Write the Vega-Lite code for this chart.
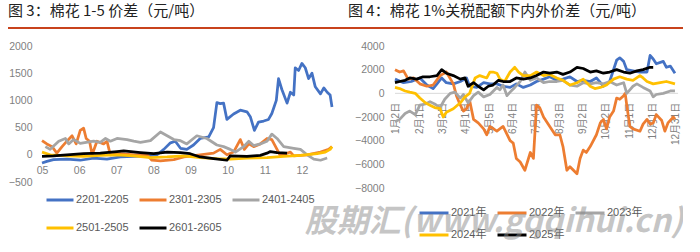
{
  "$schema": "https://vega.github.io/schema/vega-lite/v6.json",
  "padding": {"left": 8, "top": 4, "right": 0, "bottom": 0},
  "background": "white",
  "config": {"view": {"stroke": null}, "font": "Liberation Sans, Noto Sans CJK SC"},
  "datasets": {
    "p1": [
      {"s":"2201-2205","m":5.00,"v":-150},{"s":"2201-2205","m":5.13,"v":-120},{"s":"2201-2205","m":5.31,"v":-90},{"s":"2201-2205","m":5.67,"v":-80},{"s":"2201-2205","m":6.03,"v":-100},{"s":"2201-2205","m":6.39,"v":-60},{"s":"2201-2205","m":6.75,"v":-80},{"s":"2201-2205","m":7.11,"v":-40},{"s":"2201-2205","m":7.47,"v":-30},{"s":"2201-2205","m":7.83,"v":-20},{"s":"2201-2205","m":8.10,"v":0},{"s":"2201-2205","m":8.28,"v":100},{"s":"2201-2205","m":8.46,"v":220},{"s":"2201-2205","m":8.59,"v":250},{"s":"2201-2205","m":8.73,"v":120},{"s":"2201-2205","m":8.90,"v":100},{"s":"2201-2205","m":9.08,"v":180},{"s":"2201-2205","m":9.26,"v":300},{"s":"2201-2205","m":9.49,"v":330},{"s":"2201-2205","m":9.62,"v":500},{"s":"2201-2205","m":9.71,"v":960},{"s":"2201-2205","m":9.80,"v":940},{"s":"2201-2205","m":9.89,"v":950},{"s":"2201-2205","m":9.98,"v":650},{"s":"2201-2205","m":10.16,"v":750},{"s":"2201-2205","m":10.34,"v":820},{"s":"2201-2205","m":10.52,"v":790},{"s":"2201-2205","m":10.61,"v":700},{"s":"2201-2205","m":10.72,"v":450},{"s":"2201-2205","m":10.83,"v":600},{"s":"2201-2205","m":10.97,"v":620},{"s":"2201-2205","m":11.10,"v":650},{"s":"2201-2205","m":11.19,"v":760},{"s":"2201-2205","m":11.31,"v":1000},{"s":"2201-2205","m":11.37,"v":1400},{"s":"2201-2205","m":11.46,"v":1200},{"s":"2201-2205","m":11.60,"v":950},{"s":"2201-2205","m":11.69,"v":1150},{"s":"2201-2205","m":11.78,"v":1100},{"s":"2201-2205","m":11.82,"v":1600},{"s":"2201-2205","m":11.91,"v":1550},{"s":"2201-2205","m":12.00,"v":1680},{"s":"2201-2205","m":12.09,"v":1600},{"s":"2201-2205","m":12.18,"v":1400},{"s":"2201-2205","m":12.27,"v":1500},{"s":"2201-2205","m":12.36,"v":1250},{"s":"2201-2205","m":12.50,"v":1120},{"s":"2201-2205","m":12.59,"v":1230},{"s":"2201-2205","m":12.68,"v":1150},{"s":"2201-2205","m":12.76,"v":1100},{"s":"2201-2205","m":12.81,"v":880},
      {"s":"2301-2305","m":5.00,"v":260},{"s":"2301-2305","m":5.13,"v":200},{"s":"2301-2305","m":5.27,"v":150},{"s":"2301-2305","m":5.40,"v":30},{"s":"2301-2305","m":5.54,"v":150},{"s":"2301-2305","m":5.67,"v":250},{"s":"2301-2305","m":5.81,"v":350},{"s":"2301-2305","m":5.92,"v":200},{"s":"2301-2305","m":6.03,"v":450},{"s":"2301-2305","m":6.12,"v":490},{"s":"2301-2305","m":6.19,"v":300},{"s":"2301-2305","m":6.28,"v":250},{"s":"2301-2305","m":6.35,"v":0},{"s":"2301-2305","m":6.48,"v":250},{"s":"2301-2305","m":6.66,"v":200},{"s":"2301-2305","m":6.75,"v":250},{"s":"2301-2305","m":6.84,"v":0},{"s":"2301-2305","m":7.11,"v":20},{"s":"2301-2305","m":7.47,"v":0},{"s":"2301-2305","m":7.83,"v":0},{"s":"2301-2305","m":7.96,"v":-100},{"s":"2301-2305","m":8.19,"v":-110},{"s":"2301-2305","m":8.55,"v":-90},{"s":"2301-2305","m":8.82,"v":-40},{"s":"2301-2305","m":9.26,"v":0},{"s":"2301-2305","m":9.62,"v":30},{"s":"2301-2305","m":9.80,"v":100},{"s":"2301-2305","m":9.98,"v":0},{"s":"2301-2305","m":10.16,"v":50},{"s":"2301-2305","m":10.34,"v":280},{"s":"2301-2305","m":10.45,"v":100},{"s":"2301-2305","m":10.57,"v":200},{"s":"2301-2305","m":10.70,"v":150},{"s":"2301-2305","m":10.88,"v":200},{"s":"2301-2305","m":11.06,"v":300},{"s":"2301-2305","m":11.19,"v":280},{"s":"2301-2305","m":11.33,"v":100},{"s":"2301-2305","m":11.42,"v":-20},{"s":"2301-2305","m":11.69,"v":50},{"s":"2301-2305","m":11.78,"v":-20},{"s":"2301-2305","m":12.14,"v":0},{"s":"2301-2305","m":12.50,"v":50},{"s":"2301-2305","m":12.72,"v":100},{"s":"2301-2305","m":12.81,"v":150},
      {"s":"2401-2405","m":5.09,"v":150},{"s":"2401-2405","m":5.22,"v":100},{"s":"2401-2405","m":5.45,"v":250},{"s":"2401-2405","m":5.63,"v":300},{"s":"2401-2405","m":5.72,"v":200},{"s":"2401-2405","m":5.85,"v":280},{"s":"2401-2405","m":6.03,"v":210},{"s":"2401-2405","m":6.39,"v":250},{"s":"2401-2405","m":6.57,"v":230},{"s":"2401-2405","m":6.71,"v":300},{"s":"2401-2405","m":6.84,"v":250},{"s":"2401-2405","m":7.02,"v":300},{"s":"2401-2405","m":7.29,"v":280},{"s":"2401-2405","m":7.47,"v":250},{"s":"2401-2405","m":7.65,"v":230},{"s":"2401-2405","m":7.92,"v":260},{"s":"2401-2405","m":8.19,"v":420},{"s":"2401-2405","m":8.37,"v":350},{"s":"2401-2405","m":8.55,"v":280},{"s":"2401-2405","m":8.73,"v":260},{"s":"2401-2405","m":8.90,"v":200},{"s":"2401-2405","m":9.17,"v":350},{"s":"2401-2405","m":9.44,"v":300},{"s":"2401-2405","m":9.71,"v":180},{"s":"2401-2405","m":9.89,"v":150},{"s":"2401-2405","m":10.07,"v":100},{"s":"2401-2405","m":10.21,"v":50},{"s":"2401-2405","m":10.43,"v":150},{"s":"2401-2405","m":10.57,"v":250},{"s":"2401-2405","m":10.70,"v":170},{"s":"2401-2405","m":10.88,"v":200},{"s":"2401-2405","m":11.06,"v":250},{"s":"2401-2405","m":11.19,"v":380},{"s":"2401-2405","m":11.33,"v":300},{"s":"2401-2405","m":11.51,"v":150},{"s":"2401-2405","m":11.78,"v":120},{"s":"2401-2405","m":11.96,"v":100},{"s":"2401-2405","m":12.14,"v":0},{"s":"2401-2405","m":12.32,"v":-80},{"s":"2401-2405","m":12.50,"v":-100},{"s":"2401-2405","m":12.68,"v":-60},
      {"s":"2501-2505","m":5.00,"v":50},{"s":"2501-2505","m":5.22,"v":0},{"s":"2501-2505","m":5.67,"v":-20},{"s":"2501-2505","m":6.12,"v":-30},{"s":"2501-2505","m":6.57,"v":-10},{"s":"2501-2505","m":7.02,"v":0},{"s":"2501-2505","m":7.47,"v":-20},{"s":"2501-2505","m":7.92,"v":-50},{"s":"2501-2505","m":8.37,"v":-40},{"s":"2501-2505","m":8.82,"v":-20},{"s":"2501-2505","m":9.26,"v":-50},{"s":"2501-2505","m":9.71,"v":-70},{"s":"2501-2505","m":10.07,"v":-80},{"s":"2501-2505","m":10.52,"v":-60},{"s":"2501-2505","m":11.06,"v":-50},{"s":"2501-2505","m":11.51,"v":-30},{"s":"2501-2505","m":11.96,"v":-10},{"s":"2501-2505","m":12.41,"v":20},{"s":"2501-2505","m":12.63,"v":50},{"s":"2501-2505","m":12.76,"v":100},{"s":"2501-2505","m":12.81,"v":150},
      {"s":"2601-2605","m":5.00,"v":-30},{"s":"2601-2605","m":5.31,"v":-20},{"s":"2601-2605","m":5.67,"v":0},{"s":"2601-2605","m":6.12,"v":20},{"s":"2601-2605","m":6.57,"v":30},{"s":"2601-2605","m":7.02,"v":60},{"s":"2601-2605","m":7.20,"v":70},{"s":"2601-2605","m":7.65,"v":40},{"s":"2601-2605","m":8.01,"v":20},{"s":"2601-2605","m":8.37,"v":50},{"s":"2601-2605","m":8.73,"v":40},{"s":"2601-2605","m":8.99,"v":20},{"s":"2601-2605","m":9.26,"v":-40},{"s":"2601-2605","m":9.62,"v":-70},{"s":"2601-2605","m":9.98,"v":-100},{"s":"2601-2605","m":10.07,"v":-20},{"s":"2601-2605","m":10.52,"v":-30},{"s":"2601-2605","m":10.88,"v":-10},{"s":"2601-2605","m":11.06,"v":30},{"s":"2601-2605","m":11.15,"v":60},{"s":"2601-2605","m":11.33,"v":40},{"s":"2601-2605","m":11.60,"v":30}
    ],
    "p2": [
      {"s":"2021年","d":0,"v":1200},{"s":"2021年","d":11,"v":900},{"s":"2021年","d":21,"v":1000},{"s":"2021年","d":32,"v":1300},{"s":"2021年","d":41,"v":700},{"s":"2021年","d":49,"v":400},{"s":"2021年","d":54,"v":800},{"s":"2021年","d":60,"v":1300},{"s":"2021年","d":66,"v":900},{"s":"2021年","d":75,"v":800},{"s":"2021年","d":84,"v":1000},{"s":"2021年","d":92,"v":1300},{"s":"2021年","d":96,"v":600},{"s":"2021年","d":105,"v":500},{"s":"2021年","d":114,"v":900},{"s":"2021年","d":122,"v":800},{"s":"2021年","d":131,"v":800},{"s":"2021年","d":139,"v":600},{"s":"2021年","d":148,"v":500},{"s":"2021年","d":156,"v":800},{"s":"2021年","d":165,"v":500},{"s":"2021年","d":174,"v":700},{"s":"2021年","d":182,"v":1000},{"s":"2021年","d":191,"v":1200},{"s":"2021年","d":199,"v":1400},{"s":"2021年","d":208,"v":1100},{"s":"2021年","d":216,"v":1200},{"s":"2021年","d":225,"v":1400},{"s":"2021年","d":234,"v":1000},{"s":"2021年","d":242,"v":1100},{"s":"2021年","d":251,"v":1000},{"s":"2021年","d":259,"v":1300},{"s":"2021年","d":268,"v":600},{"s":"2021年","d":276,"v":1000},{"s":"2021年","d":285,"v":2800},{"s":"2021年","d":289,"v":3000},{"s":"2021年","d":294,"v":2700},{"s":"2021年","d":298,"v":2000},{"s":"2021年","d":306,"v":1900},{"s":"2021年","d":315,"v":1800},{"s":"2021年","d":324,"v":1800},{"s":"2021年","d":328,"v":3200},{"s":"2021年","d":332,"v":2900},{"s":"2021年","d":336,"v":2500},{"s":"2021年","d":345,"v":2700},{"s":"2021年","d":349,"v":2200},{"s":"2021年","d":354,"v":2300},{"s":"2021年","d":360,"v":1700},
      {"s":"2022年","d":0,"v":2000},{"s":"2022年","d":6,"v":1800},{"s":"2022年","d":11,"v":1900},{"s":"2022年","d":17,"v":1200},{"s":"2022年","d":24,"v":1300},{"s":"2022年","d":32,"v":800},{"s":"2022年","d":41,"v":600},{"s":"2022年","d":49,"v":700},{"s":"2022年","d":58,"v":1500},{"s":"2022年","d":66,"v":1800},{"s":"2022年","d":75,"v":800},{"s":"2022年","d":79,"v":-200},{"s":"2022年","d":84,"v":-1000},{"s":"2022年","d":88,"v":-1500},{"s":"2022年","d":92,"v":-1300},{"s":"2022年","d":96,"v":-600},{"s":"2022年","d":101,"v":-2200},{"s":"2022年","d":107,"v":-2500},{"s":"2022年","d":114,"v":-3000},{"s":"2022年","d":118,"v":-3500},{"s":"2022年","d":122,"v":-2800},{"s":"2022年","d":131,"v":-3200},{"s":"2022年","d":139,"v":-2800},{"s":"2022年","d":148,"v":-4000},{"s":"2022年","d":152,"v":-4200},{"s":"2022年","d":156,"v":-5500},{"s":"2022年","d":161,"v":-5800},{"s":"2022年","d":167,"v":-6500},{"s":"2022年","d":174,"v":-5000},{"s":"2022年","d":178,"v":-5500},{"s":"2022年","d":182,"v":-1000},{"s":"2022年","d":186,"v":-1200},{"s":"2022年","d":191,"v":-2000},{"s":"2022年","d":199,"v":-2800},{"s":"2022年","d":206,"v":-3500},{"s":"2022年","d":212,"v":-3500},{"s":"2022年","d":216,"v":-4500},{"s":"2022年","d":221,"v":-6500},{"s":"2022年","d":225,"v":-6200},{"s":"2022年","d":234,"v":-6800},{"s":"2022年","d":238,"v":-5500},{"s":"2022年","d":242,"v":-4800},{"s":"2022年","d":246,"v":-5000},{"s":"2022年","d":251,"v":-4500},{"s":"2022年","d":259,"v":-3500},{"s":"2022年","d":264,"v":-2500},{"s":"2022年","d":268,"v":-2200},{"s":"2022年","d":272,"v":-3000},{"s":"2022年","d":276,"v":-2000},{"s":"2022年","d":281,"v":-1500},{"s":"2022年","d":285,"v":-400},{"s":"2022年","d":289,"v":-500},{"s":"2022年","d":294,"v":-200},{"s":"2022年","d":296,"v":0},{"s":"2022年","d":298,"v":-1000},{"s":"2022年","d":302,"v":-2800},{"s":"2022年","d":306,"v":-3000},{"s":"2022年","d":315,"v":-3200},{"s":"2022年","d":319,"v":-2600},{"s":"2022年","d":324,"v":-2200},{"s":"2022年","d":328,"v":-2600},{"s":"2022年","d":332,"v":-2500},{"s":"2022年","d":336,"v":-1800},{"s":"2022年","d":343,"v":-2300},{"s":"2022年","d":347,"v":-3200},{"s":"2022年","d":351,"v":-2500},{"s":"2022年","d":358,"v":-2000},{"s":"2022年","d":360,"v":-2200},
      {"s":"2023年","d":0,"v":-2400},{"s":"2023年","d":6,"v":-2200},{"s":"2023年","d":13,"v":-1700},{"s":"2023年","d":19,"v":-1500},{"s":"2023年","d":26,"v":-1800},{"s":"2023年","d":32,"v":-1000},{"s":"2023年","d":39,"v":-900},{"s":"2023年","d":45,"v":-700},{"s":"2023年","d":51,"v":-900},{"s":"2023年","d":58,"v":-1200},{"s":"2023年","d":64,"v":-500},{"s":"2023年","d":71,"v":0},{"s":"2023年","d":77,"v":100},{"s":"2023年","d":84,"v":-400},{"s":"2023年","d":88,"v":-100},{"s":"2023年","d":94,"v":-800},{"s":"2023年","d":101,"v":-200},{"s":"2023年","d":107,"v":100},{"s":"2023年","d":114,"v":-300},{"s":"2023年","d":122,"v":-100},{"s":"2023年","d":131,"v":500},{"s":"2023年","d":135,"v":300},{"s":"2023年","d":139,"v":700},{"s":"2023年","d":144,"v":-200},{"s":"2023年","d":148,"v":100},{"s":"2023年","d":154,"v":500},{"s":"2023年","d":161,"v":1000},{"s":"2023年","d":167,"v":1800},{"s":"2023年","d":174,"v":1100},{"s":"2023年","d":182,"v":1300},{"s":"2023年","d":191,"v":900},{"s":"2023年","d":199,"v":1000},{"s":"2023年","d":208,"v":1000},{"s":"2023年","d":216,"v":1100},{"s":"2023年","d":225,"v":700},{"s":"2023年","d":234,"v":600},{"s":"2023年","d":242,"v":900},{"s":"2023年","d":251,"v":800},{"s":"2023年","d":259,"v":900},{"s":"2023年","d":268,"v":800},{"s":"2023年","d":276,"v":1000},{"s":"2023年","d":285,"v":700},{"s":"2023年","d":294,"v":900},{"s":"2023年","d":298,"v":0},{"s":"2023年","d":302,"v":300},{"s":"2023年","d":306,"v":600},{"s":"2023年","d":311,"v":800},{"s":"2023年","d":319,"v":500},{"s":"2023年","d":328,"v":200},{"s":"2023年","d":332,"v":-300},{"s":"2023年","d":336,"v":-100},{"s":"2023年","d":345,"v":0},{"s":"2023年","d":354,"v":200},{"s":"2023年","d":360,"v":200},
      {"s":"2024年","d":0,"v":500},{"s":"2024年","d":6,"v":400},{"s":"2024年","d":13,"v":200},{"s":"2024年","d":19,"v":100},{"s":"2024年","d":26,"v":0},{"s":"2024年","d":32,"v":-400},{"s":"2024年","d":39,"v":-800},{"s":"2024年","d":45,"v":-1000},{"s":"2024年","d":51,"v":-1200},{"s":"2024年","d":58,"v":-1300},{"s":"2024年","d":62,"v":-2000},{"s":"2024年","d":66,"v":-1600},{"s":"2024年","d":75,"v":-1300},{"s":"2024年","d":84,"v":-800},{"s":"2024年","d":90,"v":-300},{"s":"2024年","d":96,"v":0},{"s":"2024年","d":103,"v":1300},{"s":"2024年","d":109,"v":1500},{"s":"2024年","d":118,"v":1300},{"s":"2024年","d":122,"v":1800},{"s":"2024年","d":126,"v":1800},{"s":"2024年","d":131,"v":1700},{"s":"2024年","d":135,"v":1200},{"s":"2024年","d":141,"v":1000},{"s":"2024年","d":148,"v":1800},{"s":"2024年","d":154,"v":2200},{"s":"2024年","d":159,"v":1800},{"s":"2024年","d":165,"v":1500},{"s":"2024年","d":174,"v":1500},{"s":"2024年","d":182,"v":1800},{"s":"2024年","d":191,"v":1500},{"s":"2024年","d":199,"v":1600},{"s":"2024年","d":208,"v":1300},{"s":"2024年","d":216,"v":1100},{"s":"2024年","d":225,"v":700},{"s":"2024年","d":234,"v":900},{"s":"2024年","d":242,"v":1200},{"s":"2024年","d":251,"v":600},{"s":"2024年","d":257,"v":400},{"s":"2024年","d":264,"v":500},{"s":"2024年","d":272,"v":700},{"s":"2024年","d":281,"v":1200},{"s":"2024年","d":289,"v":1400},{"s":"2024年","d":298,"v":1200},{"s":"2024年","d":306,"v":1100},{"s":"2024年","d":315,"v":1500},{"s":"2024年","d":319,"v":1300},{"s":"2024年","d":324,"v":1000},{"s":"2024年","d":332,"v":800},{"s":"2024年","d":341,"v":900},{"s":"2024年","d":349,"v":1000},{"s":"2024年","d":360,"v":800},
      {"s":"2025年","d":0,"v":900},{"s":"2025年","d":6,"v":1000},{"s":"2025年","d":13,"v":1100},{"s":"2025年","d":19,"v":1300},{"s":"2025年","d":28,"v":1200},{"s":"2025年","d":36,"v":1400},{"s":"2025年","d":45,"v":1400},{"s":"2025年","d":54,"v":1500},{"s":"2025年","d":60,"v":2000},{"s":"2025年","d":66,"v":1700},{"s":"2025年","d":75,"v":1500},{"s":"2025年","d":84,"v":1200},{"s":"2025年","d":90,"v":1300},{"s":"2025年","d":94,"v":600},{"s":"2025年","d":101,"v":900},{"s":"2025年","d":107,"v":600},{"s":"2025年","d":114,"v":300},{"s":"2025年","d":120,"v":600},{"s":"2025年","d":126,"v":700},{"s":"2025年","d":133,"v":1100},{"s":"2025年","d":139,"v":1000},{"s":"2025年","d":148,"v":1000},{"s":"2025年","d":156,"v":1300},{"s":"2025年","d":165,"v":1200},{"s":"2025年","d":174,"v":1300},{"s":"2025年","d":182,"v":1500},{"s":"2025年","d":191,"v":1800},{"s":"2025年","d":199,"v":1700},{"s":"2025年","d":208,"v":1800},{"s":"2025年","d":216,"v":1600},{"s":"2025年","d":225,"v":1800},{"s":"2025年","d":234,"v":2200},{"s":"2025年","d":242,"v":2100},{"s":"2025年","d":251,"v":1800},{"s":"2025年","d":259,"v":1900},{"s":"2025年","d":268,"v":1700},{"s":"2025年","d":276,"v":1800},{"s":"2025年","d":285,"v":2000},{"s":"2025年","d":294,"v":1800},{"s":"2025年","d":302,"v":1700},{"s":"2025年","d":311,"v":1900},{"s":"2025年","d":319,"v":2000},{"s":"2025年","d":328,"v":2200},{"s":"2025年","d":332,"v":2200}
    ]
  },
  "spacing": 0,
  "resolve": {"scale": {"color": "independent"}, "legend": {"color": "independent"}},
  "title": {"text": "股期汇(www.gqqihui.cn)", "orient": "bottom", "anchor": "end", "font": "Noto Sans CJK SC", "fontSize": 32, "fontStyle": "italic", "fontWeight": "bold", "color": "rgba(140,140,140,0.5)", "offset": -34, "zindex": -1},
  "hconcat": [
    {
      "vconcat": [
        {
          "width": 340, "height": 2,
          "data": {"values": []},
          "mark": "point",
          "view": {"fill": "#c8431c", "stroke": null},
          "title": {"text": "图 3：棉花 1-5 价差（元/吨）", "anchor": "start", "font": "Noto Sans CJK SC", "fontSize": 15, "fontWeight": "normal", "color": "#222222", "offset": 8}
        },
        {
          "width": 327, "height": 136,
          "data": {"name": "p1"},
          "mark": {"type": "line", "strokeWidth": 2.75, "strokeJoin": "round"},
          "encoding": {
            "x": {"field": "m", "type": "quantitative", "scale": {"domain": [4.084, 12.891], "nice": false, "zero": false},
              "axis": {"values": [5,6,7,8,9,10,11,12], "labelExpr": "datum.value < 10 ? '0' + datum.value : '' + datum.value", "title": null, "grid": false, "ticks": false, "domain": false, "offset": -27.2, "labelPadding": 11, "labelFlush": false, "labelOverlap": false, "labelFontSize": 10.5, "labelColor": "#7f7f7f"}},
            "y": {"field": "v", "type": "quantitative", "scale": {"domain": [-500, 2000], "nice": false},
              "axis": {"values": [-500,0,500,1000,1500,2000], "format": "d", "title": null, "grid": false, "ticks": false, "domain": false, "offset": -34, "labelPadding": 10, "labelFlush": false, "labelOverlap": false, "labelFontSize": 10.5, "labelColor": "#7f7f7f"}},
            "color": {"field": "s", "type": "nominal",
              "scale": {"domain": ["2201-2205","2301-2305","2401-2405","2501-2505","2601-2605"], "range": ["#4472C4","#ED7D31","#A5A5A5","#FFC000","#000000"]},
              "legend": {"orient": "none", "legendX": 37, "legendY": 139, "columns": 3, "direction": "horizontal", "title": null, "symbolType": "stroke", "symbolStrokeWidth": 3, "symbolSize": 729, "labelFontSize": 11, "labelColor": "#595959", "labelOffset": 1, "columnPadding": 4, "rowPadding": 7, "padding": 0}}
          }
        }
      ],
      "spacing": 12,
      "resolve": {"scale": {"color": "independent"}, "legend": {"color": "independent"}}
    },
    {
      "vconcat": [
        {
          "width": 335, "height": 2,
          "data": {"values": []},
          "mark": "point",
          "view": {"fill": "#c8431c", "stroke": null},
          "title": {"text": "图 4：棉花 1%关税配额下内外价差（元/吨）", "anchor": "start", "font": "Noto Sans CJK SC", "fontSize": 15, "fontWeight": "normal", "color": "#222222", "offset": 8}
        },
        {
          "width": 330, "height": 142,
          "layer": [
            {
              "data": {"values": [{}]},
              "mark": {"type": "rule", "color": "#d9d9d9", "strokeWidth": 1},
              "encoding": {
                "x": {"datum": 0, "type": "quantitative", "scale": {"domain": [-60.43, 363.9], "nice": false, "zero": false},
                  "axis": {"values": [1,31,61,91,121,151,181,211,241,271,301,331,361], "labelExpr": "['1月2日','2月1日','3月2日','4月1日','5月5日','6月4日','7月4日','8月3日','9月2日','10月2日','11月1日','12月1日','12月31日'][round((datum.value-1)/30)]", "labelAngle": 270, "title": null, "grid": false, "ticks": false, "domain": false, "offset": -94.67, "labelPadding": 9, "labelFlush": false, "labelOverlap": false, "labelFontSize": 10, "labelColor": "#7f7f7f"}},
                "x2": {"datum": 364},
                "y": {"datum": 0, "type": "quantitative", "scale": {"domain": [-8000, 4000], "nice": false},
                  "axis": {"values": [-8000,-6000,-4000,-2000,0,2000,4000], "format": "d", "title": null, "grid": false, "ticks": false, "domain": false, "offset": -47, "labelPadding": 11, "labelFlush": false, "labelOverlap": false, "labelFontSize": 10.5, "labelColor": "#7f7f7f"}}
              }
            },
            {
              "data": {"name": "p2"},
              "mark": {"type": "line", "strokeWidth": 2.75, "strokeJoin": "round"},
              "encoding": {
                "x": {"field": "d", "type": "quantitative", "scale": {"domain": [-60.43, 363.9], "nice": false, "zero": false},
                  "axis": {"values": [1,31,61,91,121,151,181,211,241,271,301,331,361], "labelExpr": "['1月2日','2月1日','3月2日','4月1日','5月5日','6月4日','7月4日','8月3日','9月2日','10月2日','11月1日','12月1日','12月31日'][round((datum.value-1)/30)]", "labelAngle": 270, "title": null, "grid": false, "ticks": false, "domain": false, "offset": -94.67, "labelPadding": 9, "labelFlush": false, "labelOverlap": false, "labelFontSize": 10, "labelColor": "#7f7f7f"}},
                "y": {"field": "v", "type": "quantitative", "scale": {"domain": [-8000, 4000], "nice": false},
                  "axis": {"values": [-8000,-6000,-4000,-2000,0,2000,4000], "format": "d", "title": null, "grid": false, "ticks": false, "domain": false, "offset": -47, "labelPadding": 11, "labelFlush": false, "labelOverlap": false, "labelFontSize": 10.5, "labelColor": "#7f7f7f"}},
                "color": {"field": "s", "type": "nominal",
                  "scale": {"domain": ["2021年","2022年","2023年","2024年","2025年"], "range": ["#4472C4","#ED7D31","#A5A5A5","#FFC000","#000000"]},
                  "legend": {"orient": "none", "legendX": 70, "legendY": 151, "columns": 3, "direction": "horizontal", "title": null, "symbolType": "stroke", "symbolStrokeWidth": 3, "symbolSize": 841, "labelFontSize": 11, "labelColor": "#595959", "labelOffset": 1, "columnPadding": 4, "rowPadding": 0, "padding": 0}}
              }
            }
          ]
        }
      ],
      "spacing": 12,
      "resolve": {"scale": {"color": "independent"}, "legend": {"color": "independent"}}
    }
  ]
}
